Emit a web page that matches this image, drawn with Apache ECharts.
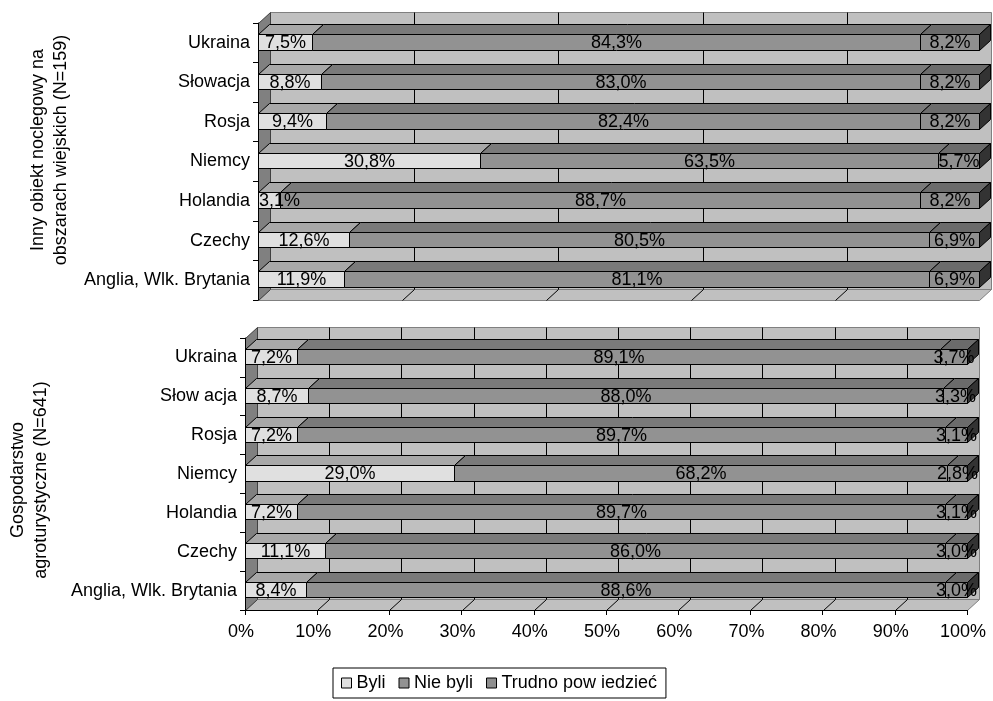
<!DOCTYPE html>
<html>
<head>
<meta charset="utf-8">
<script src="https://cdn.jsdelivr.net/npm/echarts@6/dist/echarts.min.js"></script>
<style>
  html, body { margin: 0; padding: 0; background: #fff; }
  #chart { width: 993px; height: 701px; }
</style>
</head>
<body>
<div id="chart"></div>
<script>
// Countries, bottom to top
const categoriesOther = ['Anglia, Wlk. Brytania', 'Czechy', 'Holandia', 'Niemcy', 'Rosja', 'Słowacja', 'Ukraina'];
const categoriesAgro  = ['Anglia, Wlk. Brytania', 'Czechy', 'Holandia', 'Niemcy', 'Rosja', 'Słow acja', 'Ukraina'];
const seriesNames = ['Byli', 'Nie byli', 'Trudno pow iedzieć'];

// Inny obiekt noclegowy na obszarach wiejskich (N=159)
const otherByli    = [11.9, 12.6, 3.1, 30.8, 9.4, 8.8, 7.5];
const otherNieByli = [81.1, 80.5, 88.7, 63.5, 82.4, 83.0, 84.3];
const otherTrudno  = [6.9, 6.9, 8.2, 5.7, 8.2, 8.2, 8.2];

// Gospodarstwo agroturystyczne (N=641)
const agroByli    = [8.4, 11.1, 7.2, 29.0, 7.2, 8.7, 7.2];
const agroNieByli = [88.6, 86.0, 89.7, 68.2, 89.7, 88.0, 89.1];
const agroTrudno  = [3.0, 3.0, 3.1, 2.8, 3.1, 3.3, 3.7];

const otherTicks = [0, 20, 40, 60, 80, 100];
const agroTicks  = [0, 10, 20, 30, 40, 50, 60, 70, 80, 90, 100];

const titleOther = 'Inny obiekt noclegowy na\nobszarach wiejskich (N=159)';
const titleAgro  = 'Gospodarstwo\nagroturystyczne (N=641)';

const FONT = '"Liberation Sans", Arial, sans-serif';
const FONT_SIZE = 18;
const BAR_DEPTH = [11, -10];
const WALL_DEPTH = [12, -11];
const FACES = [
  { front: '#e0e0e0', top: '#a8a8a8', side: '#707070' },
  { front: '#929292', top: '#7a7a7a', side: '#4a4a4a' },
  { front: '#8f8f8f', top: '#6b6b6b', side: '#333333' }
];

const px = v => Math.round(v) + 0.5;
const fmt = v => v.toFixed(1).replace('.', ',') + '%';
const measureCtx = document.createElement('canvas').getContext('2d');
measureCtx.font = FONT_SIZE + 'px ' + FONT;

// Back wall, floor and left wall of a 3-D plot box, with gridlines
function wallSeries(gridIndex, ticks) {
  return {
    type: 'custom', xAxisIndex: gridIndex, yAxisIndex: gridIndex,
    z: 1, silent: true, clip: false,
    data: [[0, 0]], encode: { x: 0, y: 1 },
    renderItem(params, api) {
      const cs = params.coordSys;
      const L = px(cs.x), T = px(cs.y), R = px(cs.x + cs.width), B = px(cs.y + cs.height);
      const [dx, dy] = WALL_DEPTH;
      const children = [
        { type: 'polygon', shape: { points: [[L + dx, T + dy], [R + dx, T + dy], [R + dx, B + dy], [L + dx, B + dy]] },
          style: { fill: '#c0c0c0', stroke: '#808080', lineWidth: 1 } },
        { type: 'polygon', shape: { points: [[L, B], [R, B], [R + dx, B + dy], [L + dx, B + dy]] },
          style: { fill: '#c0c0c0', stroke: '#808080', lineWidth: 1 } },
        { type: 'polygon', shape: { points: [[L, T], [L + dx, T + dy], [L + dx, B + dy], [L, B]] },
          style: { fill: '#808080', stroke: '#404040', lineWidth: 1 } }
      ];
      ticks.forEach(t => {
        if (t <= 0 || t >= 100) return;
        const x = px(api.coord([t, 0])[0]);
        children.push({ type: 'line', shape: { x1: x + dx, y1: T + dy, x2: x + dx, y2: B + dy },
          style: { stroke: '#000', lineWidth: 1 } });
        children.push({ type: 'line', shape: { x1: x, y1: B, x2: x + dx, y2: B + dy },
          style: { stroke: '#000', lineWidth: 1 } });
      });
      return { type: 'group', children };
    }
  };
}

// One stacked segment of the 100% 3-D bars
function barSeries(gridIndex, segIndex, stacks) {
  const face = FACES[segIndex];
  const last = segIndex === stacks.length - 1;
  const data = stacks[segIndex].map((v, i) => {
    const total = stacks.reduce((s, arr) => s + arr[i], 0);
    let start = 0;
    for (let k = 0; k < segIndex; k++) start += stacks[k][i];
    return [start / total * 100, (start + v) / total * 100, i, v];
  });
  return {
    type: 'custom', name: seriesNames[segIndex],
    xAxisIndex: gridIndex, yAxisIndex: gridIndex, z: 3, clip: false,
    itemStyle: { color: face.front, borderColor: '#000', borderWidth: 1 },
    data, encode: { x: [0, 1], y: 2 },
    renderItem(params, api) {
      const a = api.coord([api.value(0), api.value(2)]);
      const b = api.coord([api.value(1), api.value(2)]);
      const band = api.size([0, 1])[1];
      const h = band * 0.39;
      const x0 = px(a[0]), x1 = px(b[0]);
      const top = px(a[1] - h / 2 - 1), bot = px(a[1] + h / 2 - 1);
      const [dx, dy] = BAR_DEPTH;
      const st = { stroke: '#000', lineWidth: 1 };
      const children = [
        { type: 'polygon', shape: { points: [[x0, top], [x0 + dx, top + dy], [x1 + dx, top + dy], [x1, top]] },
          style: Object.assign({ fill: face.top }, st) },
        { type: 'rect', shape: { x: x0, y: top, width: x1 - x0, height: bot - top },
          style: Object.assign({ fill: face.front }, st) }
      ];
      if (last) {
        children.push({ type: 'polygon', shape: { points: [[x1, top], [x1 + dx, top + dy], [x1 + dx, bot + dy], [x1, bot]] },
          style: Object.assign({ fill: face.side }, st) });
      }
      const label = fmt(api.value(3));
      const w = measureCtx.measureText(label).width;
      const left = params.coordSys.x;
      let cx = (x0 + x1) / 2;
      if (cx - w / 2 < left) cx = left + w / 2 + 1;
      children.push({ type: 'text', x: cx, y: (top + bot) / 2 + 1, z2: 100,
        style: { text: label, font: FONT_SIZE + 'px ' + FONT, fill: '#000', align: 'center', verticalAlign: 'middle' } });
      return { type: 'group', children };
    }
  };
}

const otherStacks = [otherByli, otherNieByli, otherTrudno];
const agroStacks = [agroByli, agroNieByli, agroTrudno];

const yAxisBase = {
  type: 'category', z: 5,
  axisLine: { show: true, lineStyle: { color: '#000', width: 1 } },
  axisTick: { show: true, length: 5, lineStyle: { color: '#000' } },
  axisLabel: { color: '#000', fontSize: FONT_SIZE, fontFamily: FONT, margin: 8 },
  splitLine: { show: false }
};

const option = {
  backgroundColor: '#fff',
  animation: false,
  grid: [
    { left: 258, right: 14, top: 23, bottom: 401 },
    { left: 245, right: 26, top: 338, bottom: 91 }
  ],
  xAxis: [
    { type: 'value', gridIndex: 0, min: 0, max: 100, interval: 20,
      axisLine: { show: false }, axisTick: { show: false }, axisLabel: { show: false }, splitLine: { show: false } },
    { type: 'value', gridIndex: 1, min: 0, max: 100, interval: 10, z: 5,
      axisLine: { show: true, lineStyle: { color: '#000', width: 1 } },
      axisTick: { show: true, length: 5, lineStyle: { color: '#000' } },
      axisLabel: { color: '#000', fontSize: FONT_SIZE, fontFamily: FONT, margin: 13, formatter: '{value}%',
        padding: [0, 8, 0, 0] },
      splitLine: { show: false } }
  ],
  yAxis: [
    Object.assign({ gridIndex: 0, data: categoriesOther }, yAxisBase),
    Object.assign({ gridIndex: 1, data: categoriesAgro }, yAxisBase)
  ],
  legend: {
    data: seriesNames,
    left: 333, top: 668,
    orient: 'horizontal',
    icon: 'rect',
    itemWidth: 10, itemHeight: 10, itemGap: 13,
    padding: [6, 9, 6, 8],
    borderColor: '#000', borderWidth: 1, borderRadius: 0,
    itemStyle: { borderColor: '#000', borderWidth: 1 },
    textStyle: { color: '#000', fontSize: FONT_SIZE, fontFamily: FONT },
    selectedMode: false
  },
  graphic: [
    { type: 'text', x: 50, y: 150, rotation: Math.PI / 2,
      style: { text: titleOther, font: FONT_SIZE + 'px ' + FONT, fill: '#000',
        align: 'center', verticalAlign: 'middle', lineHeight: 23 } },
    { type: 'text', x: 30, y: 480, rotation: Math.PI / 2,
      style: { text: titleAgro, font: FONT_SIZE + 'px ' + FONT, fill: '#000',
        align: 'center', verticalAlign: 'middle', lineHeight: 23 } }
  ],
  series: [
    wallSeries(0, otherTicks),
    wallSeries(1, agroTicks),
    barSeries(0, 0, otherStacks), barSeries(0, 1, otherStacks), barSeries(0, 2, otherStacks),
    barSeries(1, 0, agroStacks), barSeries(1, 1, agroStacks), barSeries(1, 2, agroStacks)
  ]
};

const chart = echarts.init(document.getElementById('chart'), null, { renderer: 'canvas' });
chart.setOption(option);
</script>
</body>
</html>
